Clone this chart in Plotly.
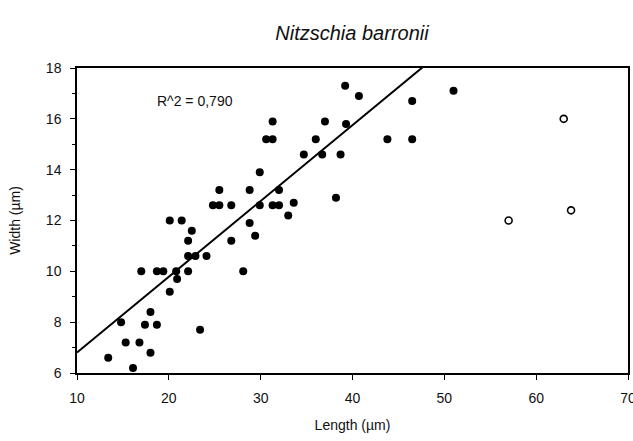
import plotly.graph_objects as go

# Filled points (Length, Width)
length_filled = [13.4, 14.8, 15.3, 16.1, 16.8, 17.0, 17.4, 18.0, 18.0, 18.7, 18.7, 19.4,
                 20.1, 20.1, 20.8, 20.9, 21.4, 22.1, 22.1, 22.1, 22.5, 22.9, 23.4, 24.1,
                 24.8, 25.5, 25.5, 26.8, 26.8, 28.1, 28.8, 28.8, 29.4, 29.9, 29.9, 30.6,
                 31.3, 31.3, 31.3, 32.0, 32.0, 33.0, 33.6, 34.7, 36.0, 36.7, 37.0, 38.2,
                 38.7, 39.2, 39.3, 40.7, 43.8, 46.5, 46.5, 51.0]
width_filled = [6.6, 8.0, 7.2, 6.2, 7.2, 10.0, 7.9, 8.4, 6.8, 7.9, 10.0, 10.0,
                9.2, 12.0, 10.0, 9.7, 12.0, 11.2, 10.6, 10.0, 11.6, 10.6, 7.7, 10.6,
                12.6, 12.6, 13.2, 12.6, 11.2, 10.0, 13.2, 11.9, 11.4, 12.6, 13.9, 15.2,
                15.2, 15.9, 12.6, 12.6, 13.2, 12.2, 12.7, 14.6, 15.2, 14.6, 15.9, 12.9,
                14.6, 17.3, 15.8, 16.9, 15.2, 16.7, 15.2, 17.1]

# Open points (outliers)
length_open = [57.0, 63.0, 63.8]
width_open = [12.0, 16.0, 12.4]

# Regression line
fit_slope = 0.2983
fit_intercept = 3.82
fit_x = [10, 70]
r2_text = "R^2 = 0,790"

font = "Liberation Sans, Arial, Helvetica, sans-serif"

fig = go.Figure()
fig.add_trace(go.Scatter(
    x=fit_x, y=[fit_intercept + fit_slope * v for v in fit_x],
    mode="lines", line=dict(color="black", width=2), hoverinfo="skip"))
fig.add_trace(go.Scatter(
    x=length_filled, y=width_filled, mode="markers",
    marker=dict(color="black", size=8, line=dict(width=0))))
fig.add_trace(go.Scatter(
    x=length_open, y=width_open, mode="markers",
    marker=dict(color="white", size=7, line=dict(color="black", width=1.6))))

fig.add_annotation(x=18.5, y=16.7, text=r2_text, showarrow=False,
                   xanchor="left", yanchor="middle",
                   font=dict(family=font, size=14, color="#111"))

fig.update_layout(
    width=633, height=441,
    margin=dict(l=77, r=5, t=68, b=68),
    paper_bgcolor="white", plot_bgcolor="white",
    showlegend=False,
    font=dict(family=font, size=14, color="#111"),
    title=dict(text="<i>Nitzschia barronii</i>", x=352 / 633, xanchor="center",
               y=1 - 33 / 441, yanchor="middle",
               font=dict(family=font, size=20, color="#111")),
)
fig.update_xaxes(
    range=[10, 70], tickvals=[10, 20, 30, 40, 50, 60, 70],
    showgrid=False, zeroline=False, automargin=False,
    showline=True, linecolor="black", linewidth=1.5, mirror=True,
    ticks="outside", ticklen=5, tickwidth=1.2, tickcolor="black",
    ticklabelstandoff=6, ticklabeloverflow="allow",
    title=dict(text="Length (µm)", standoff=16, font=dict(size=14)),
)
fig.update_yaxes(
    range=[6, 18], tickvals=[6, 8, 10, 12, 14, 16, 18],
    minor=dict(tickvals=[7, 9, 11, 13, 15, 17], ticks="outside", ticklen=3,
               tickcolor="black", tickwidth=1),
    showgrid=False, zeroline=False, automargin=False,
    showline=True, linecolor="black", linewidth=1.5, mirror=True,
    ticks="outside", ticklen=5, tickwidth=1.2, tickcolor="black",
    ticklabelstandoff=6, ticklabeloverflow="allow",
    title=dict(text="Width (µm)", standoff=22, font=dict(size=14)),
)

fig.write_html("out.html")
